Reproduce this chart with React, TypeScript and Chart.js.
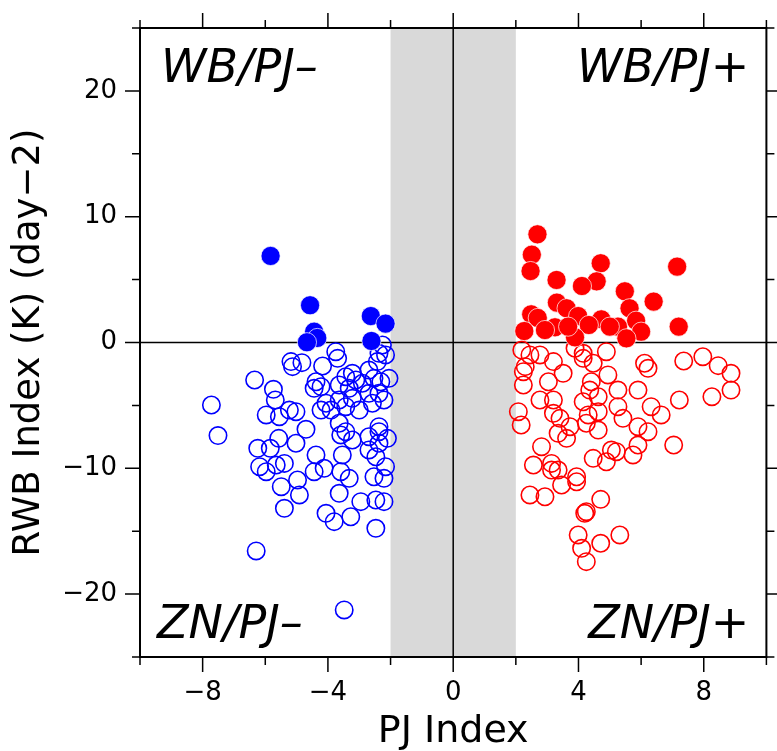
import React, { useEffect, useRef } from "react";
import { Chart, registerables } from "chart.js";

Chart.register(...registerables);

// ---- data ----
const xRange = [-10, 10];
const yRange = [-25, 25];
const xStep = 2;
const yStep = 5;
const xLabelEvery = 4;
const yLabelEvery = 10;
const band = [-2, 2];
const xTitle = "PJ Index";
const yTitle = "RWB Index (K) (day\u22122)";
const quadrantLabels = ["WB/PJ\u2013", "WB/PJ+", "ZN/PJ\u2013", "ZN/PJ+"];

const blueFilledX = [-5.83, -4.57, -4.44, -4.34, -4.67, -2.63, -2.16, -2.61];
const blueFilledY = [6.88, 2.96, 0.86, 0.36, 0.02, 2.1, 1.5, 0.12];

const redFilledX = [2.69, 2.51, 2.47, 3.3, 4.71, 4.58, 4.11, 7.15, 5.48, 6.4, 3.31, 3.62, 5.63, 2.49, 2.7, 3.99, 4.73, 4.33, 5.84, 7.2, 2.27, 3.25, 2.93, 5.26, 6.0, 3.89, 5.53, 5.0, 3.67];
const redFilledY = [8.6, 6.98, 5.68, 4.97, 6.3, 4.86, 4.49, 6.03, 4.07, 3.25, 3.17, 2.72, 2.72, 2.24, 1.95, 2.1, 1.84, 1.39, 1.73, 1.26, 0.91, 1.21, 0.99, 1.26, 0.86, 0.41, 0.33, 1.26, 1.26];

const blueOpenX = [-7.72, -6.34, -5.74, -5.68, -5.97, -5.18, -5.13, -4.83, -5.55, -5.23, -5.02, -4.17, -3.75, -3.69, -4.38, -4.44, -4.22, -4.06, -4.22, -3.9, -3.64, -3.43, -3.22, -3.11, -3.32, -3.22, -3.64, -3.43, -3.0, -2.69, -2.42, -2.26, -2.37, -2.16, -2.53, -2.31, -2.05, -2.69, -2.37, -2.21, -2.9, -2.58, -2.37, -4.7, -7.51, -6.24, -5.84, -5.57, -5.02, -6.18, -5.97, -5.65, -5.39, -5.49, -4.97, -4.91, -5.39, -4.38, -4.44, -4.12, -4.06, -3.8, -3.27, -3.64, -3.32, -3.59, -3.54, -3.59, -3.43, -3.22, -3.64, -2.69, -2.37, -2.1, -2.47, -2.53, -2.21, -2.16, -2.95, -2.47, -2.21, -2.47, -6.29, -3.48, -2.37, -2.69];
const blueOpenY = [-4.97, -2.98, -3.72, -4.57, -5.76, -1.52, -1.92, -1.6, -5.9, -5.37, -5.5, -1.87, -0.73, -1.26, -3.12, -3.64, -3.51, -4.83, -5.37, -5.37, -3.38, -2.72, -2.45, -2.98, -3.64, -4.44, -4.57, -5.1, -5.37, -2.19, -1.52, -0.2, -0.86, -0.99, -2.85, -3.12, -2.85, -4.04, -4.04, -4.57, -3.24, -4.83, -6.69, -6.9, -7.4, -8.41, -8.41, -7.62, -8.01, -9.87, -10.27, -9.74, -9.61, -11.46, -10.93, -12.12, -13.18, -8.94, -10.27, -10.0, -13.58, -14.24, -13.85, -11.99, -10.8, -10.27, -8.94, -7.35, -7.09, -7.75, -6.42, -8.54, -8.01, -7.62, -9.08, -10.67, -10.8, -9.87, -12.65, -12.52, -12.65, -14.77, -16.57, -21.26, -7.09, -7.49];

const redOpenX = [2.19, 2.45, 2.77, 2.3, 2.24, 2.24, 3.2, 3.51, 3.04, 3.89, 4.15, 4.15, 4.47, 4.89, 4.94, 4.41, 4.36, 4.63, 4.15, 5.26, 5.9, 6.11, 6.22, 7.36, 7.97, 8.46, 8.87, 8.87, 8.26, 7.22, 2.77, 3.2, 2.08, 5.26, 6.32, 6.64, 2.17, 3.2, 3.41, 3.73, 3.35, 3.62, 4.31, 4.25, 4.63, 4.63, 5.42, 5.9, 6.22, 7.04, 2.82, 2.56, 3.14, 3.14, 3.35, 3.46, 3.94, 3.94, 4.47, 4.89, 5.05, 5.21, 5.74, 5.9, 2.45, 2.93, 4.71, 4.25, 4.2, 3.99, 4.1, 4.71, 5.32, 4.25];
const redOpenY = [-0.6, -0.99, -0.99, -1.92, -2.32, -3.38, -1.52, -2.45, -3.12, -0.46, -0.86, -1.26, -1.65, -0.73, -2.58, -3.12, -3.78, -4.31, -4.71, -3.78, -3.78, -1.65, -2.05, -1.47, -1.13, -1.84, -2.45, -3.78, -4.31, -4.57, -4.57, -4.57, -5.5, -5.1, -5.1, -5.76, -6.56, -5.63, -6.03, -6.69, -7.22, -7.62, -5.76, -6.42, -5.5, -6.96, -6.03, -6.69, -7.09, -8.15, -8.28, -9.74, -9.61, -10.14, -10.14, -11.33, -10.67, -11.07, -9.21, -9.48, -8.55, -8.68, -8.94, -8.15, -12.12, -12.26, -12.47, -13.45, -13.58, -15.3, -16.36, -15.96, -15.3, -17.42];

const FONT = "'DejaVu Sans', sans-serif";

const zip = (xs: number[], ys: number[]) => xs.map((x, i) => ({ x, y: ys[i] }));
const fmt = (v: number) => (v < 0 ? "\u2212" + Math.abs(v) : String(v));

const decor = {
  id: "decor",
  beforeDatasetsDraw(chart: any) {
    const { ctx, chartArea: a, scales } = chart;
    const x = scales.x, y = scales.y;
    ctx.save();
    ctx.fillStyle = "#d9d9d9";
    const b1 = x.getPixelForValue(band[0]);
    const b2 = x.getPixelForValue(band[1]);
    ctx.fillRect(b1, a.top, b2 - b1, a.bottom - a.top);
    ctx.strokeStyle = "#000";
    ctx.lineWidth = 1.5;
    const x0 = x.getPixelForValue(0);
    const y0 = y.getPixelForValue(0);
    ctx.beginPath();
    ctx.moveTo(x0, a.top);
    ctx.lineTo(x0, a.bottom);
    ctx.moveTo(a.left, y0);
    ctx.lineTo(a.right, y0);
    ctx.stroke();
    ctx.restore();
  },
  afterDatasetsDraw(chart: any) {
    const { ctx, chartArea: a, scales } = chart;
    const x = scales.x, y = scales.y;
    ctx.save();
    ctx.strokeStyle = "#000";
    ctx.lineWidth = 2;
    ctx.strokeRect(a.left, a.top, a.right - a.left, a.bottom - a.top);
    ctx.lineWidth = 1.5;
    ctx.beginPath();
    const majorLen = 15, minorLen = 8;
    x.ticks.forEach((t: any) => {
      const p = x.getPixelForValue(t.value);
      const len = Math.abs(t.value % xLabelEvery) < 1e-6 ? majorLen : minorLen;
      ctx.moveTo(p, a.bottom);
      ctx.lineTo(p, a.bottom + len);
      ctx.moveTo(p, a.top);
      ctx.lineTo(p, a.top - len);
    });
    y.ticks.forEach((t: any) => {
      const p = y.getPixelForValue(t.value);
      const len = Math.abs(t.value % yLabelEvery) < 1e-6 ? majorLen : minorLen;
      ctx.moveTo(a.left, p);
      ctx.lineTo(a.left - len, p);
      ctx.moveTo(a.right, p);
      ctx.lineTo(a.right + len, p);
    });
    ctx.stroke();

    ctx.fillStyle = "#000";
    ctx.font = `italic 46px ${FONT}`;
    ctx.textBaseline = "alphabetic";
    ctx.textAlign = "left";
    ctx.fillText(quadrantLabels[0], a.left + 21, a.top + 54);
    ctx.fillText(quadrantLabels[2], a.left + 17, a.bottom - 19);
    ctx.textAlign = "right";
    ctx.fillText(quadrantLabels[1], a.right - 17, a.top + 54);
    ctx.fillText(quadrantLabels[3], a.right - 17, a.bottom - 19);
    ctx.restore();
  },
};

const noPad = (s: any) => {
  s.paddingTop = 0;
  s.paddingBottom = 0;
  s.paddingLeft = 0;
  s.paddingRight = 0;
};

export default function App() {
  const ref = useRef<HTMLCanvasElement>(null);
  useEffect(() => {
    document.body.style.margin = "0";
    const canvas = ref.current!;
    const openPt = (color: string) => ({
      pointRadius: 8.7,
      pointBorderWidth: 1.6,
      pointBorderColor: color,
      pointBackgroundColor: "rgba(0,0,0,0)",
      pointHoverRadius: 8.7,
    });
    const fillPt = (color: string) => ({
      pointRadius: 9.6,
      pointBorderWidth: 1,
      pointBorderColor: "rgba(255,255,255,0.7)",
      pointBackgroundColor: color,
      pointHoverRadius: 9.6,
    });
    const chart = new Chart(canvas, {
      type: "scatter",
      data: {
        datasets: [
          { label: "WB/PJ+", data: zip(redFilledX, redFilledY), ...fillPt("#ff0000") },
          { label: "WB/PJ-", data: zip(blueFilledX, blueFilledY), ...fillPt("#0000ff") },
          { label: "ZN/PJ+", data: zip(redOpenX, redOpenY), ...openPt("#ff0000") },
          { label: "ZN/PJ-", data: zip(blueOpenX, blueOpenY), ...openPt("#0000ff") },
        ] as any,
      },
      options: {
        animation: false,
        responsive: false,
        maintainAspectRatio: false,
        devicePixelRatio: 1,
        layout: { padding: { top: 28, right: 8, left: 0, bottom: 0 } },
        plugins: { legend: { display: false }, tooltip: { enabled: false } },
        scales: {
          x: {
            type: "linear",
            min: xRange[0],
            max: xRange[1],
            grid: { display: false, drawTicks: false },
            border: { display: false },
            ticks: {
              stepSize: xStep,
              autoSkip: false,
              maxRotation: 0,
              padding: 21,
              color: "#000",
              font: { family: FONT, size: 26 },
              callback: (v: any) => (Math.abs(Number(v) % xLabelEvery) < 1e-6 ? fmt(Number(v)) : ""),
            },
            title: {
              display: true,
              text: xTitle,
              color: "#000",
              font: { family: FONT, size: 38, lineHeight: 1 },
              padding: { top: 0, bottom: 0 },
            },
            afterFit: (s: any) => {
              s.height = 94;
              noPad(s);
            },
          },
          y: {
            type: "linear",
            min: yRange[0],
            max: yRange[1],
            grid: { display: false, drawTicks: false },
            border: { display: false },
            ticks: {
              stepSize: yStep,
              autoSkip: false,
              padding: 23,
              color: "#000",
              font: { family: FONT, size: 26 },
              callback: (v: any) => (Math.abs(Number(v) % yLabelEvery) < 1e-6 ? fmt(Number(v)) : ""),
            },
            title: {
              display: true,
              text: yTitle,
              color: "#000",
              font: { family: FONT, size: 37, lineHeight: 1 },
              padding: { top: 11, bottom: 0 },
            },
            afterFit: (s: any) => {
              s.width = 140;
              noPad(s);
            },
          },
        },
      } as any,
      plugins: [decor],
    });
    return () => chart.destroy();
  }, []);
  return <canvas ref={ref} width={777} height={751} style={{ display: "block" }} />;
}
